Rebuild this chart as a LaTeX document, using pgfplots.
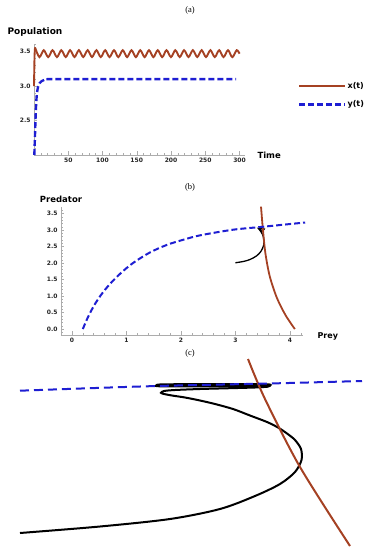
\documentclass[border=0pt]{standalone}
\usepackage{fontspec}
\setmainfont{DejaVu Sans}
\newfontfamily\seriffont{Liberation Serif}
\usepackage{pgfplots}
\pgfplotsset{compat=1.18}
\definecolor{mbrown}{RGB}{165,65,35}
\definecolor{mblue}{RGB}{30,30,210}
\newcommand{\tickfont}{\fontsize{6}{7}\selectfont\bfseries}
\pgfplotsset{
  mstyle/.style={
    scale only axis, clip=false,
    axis lines=left,
    axis line style={gray!65, line width=0.6pt, -},
    tick style={gray!65, line width=0.5pt},
    tick align=inside,
    major tick length=3.5pt, minor tick length=2pt,
    tick label style={font=\tickfont, text=black!85},
    /pgf/number format/assume math mode=true,
  }
}
\begin{document}
\begin{tikzpicture}
\path[use as bounding box] (0,0) rectangle (368pt,550pt);

% ---------------- panel (a)
\begin{axis}[mstyle,
  at={(34pt,395pt)}, anchor=south west,
  width=211pt, height=111pt,
  xmin=0, xmax=308, ymin=2, ymax=3.61,
  xtick={50,100,...,300},
  minor xtick={0,10,...,300},
  ytick={2.5,3.0,3.5},
  minor ytick={2.1,2.2,...,3.6},
  yticklabel style={/pgf/number format/.cd, fixed, fixed zerofill, precision=1},
  legend style={at={(1.237,0.685)}, anchor=north west, draw=none, fill=none,
    font=\fontsize{8}{9}\selectfont\bfseries, row sep=9pt,
    nodes={inner sep=1pt, anchor=west}},
  legend cell align=left,
  legend image code/.code={\draw[#1] (0pt,0pt) -- (46pt,0pt);},
]
\addplot[mbrown, line width=1.9pt, forget plot] coordinates {(0,3.0) (0.8,3.45) (1.5,3.56)};
\addplot[mbrown, line width=1.9pt, smooth] coordinates {
(1.5,3.56) (7.9,3.42) (14.3,3.52) (20.7,3.42) (27.1,3.52) (33.5,3.42) (39.9,3.52)
(46.3,3.42) (52.7,3.52) (59.1,3.42) (65.5,3.52) (71.9,3.42) (78.3,3.52) (84.7,3.42)
(91.1,3.52) (97.5,3.42) (103.9,3.52) (110.3,3.42) (116.7,3.52) (123.1,3.42) (129.5,3.52)
(135.9,3.42) (142.3,3.52) (148.7,3.42) (155.1,3.52) (161.5,3.42) (167.9,3.52) (174.3,3.42)
(180.7,3.52) (187.1,3.42) (193.5,3.52) (199.9,3.42) (206.3,3.52) (212.7,3.42) (219.1,3.52)
(225.5,3.42) (231.9,3.52) (238.3,3.42) (244.7,3.52) (251.1,3.42) (257.5,3.52) (263.9,3.42)
(270.3,3.52) (276.7,3.42) (283.1,3.52) (289.5,3.42) (295.9,3.52) (300,3.47)};
\addlegendentry{x(t)}
\addplot[mblue, line width=2.4pt, dash pattern=on 6pt off 3pt, smooth] coordinates {
(0.5,2.0) (1.5,2.3) (2.5,2.6) (3.5,2.8) (4.5,2.91) (6,2.99) (8,3.04) (11,3.07)
(15,3.09) (22,3.1) (100,3.1) (200,3.1) (295,3.1)};
\addlegendentry{y(t)}
\end{axis}

% ---------------- panel (b)
\begin{axis}[mstyle,
  at={(61pt,215pt)}, anchor=south west,
  width=242pt, height=128pt,
  xmin=-0.2, xmax=4.24, ymin=-0.18, ymax=3.7,
  xtick={0,1,2,3,4},
  minor xtick={-0.2,0,0.2,...,4.2},
  ytick={0,0.5,...,3.5},
  minor ytick={-0.1,0,0.1,...,3.7},
  yticklabel style={/pgf/number format/.cd, fixed, fixed zerofill, precision=1},
]
\addplot[black, line width=1.3pt, smooth] coordinates {
(3.0,2.01) (3.15,2.05) (3.27,2.11) (3.39,2.22) (3.47,2.36) (3.52,2.55) (3.52,2.72) (3.50,2.86) (3.46,2.97)};
\addplot[black, line width=1.2pt] coordinates {
(3.46,2.97) (3.42,3.05) (3.53,3.03) (3.49,2.95) (3.45,3.03) (3.53,3.05)};
\addplot[mbrown, line width=1.8pt, smooth] coordinates {
(3.47,3.71) (3.50,3.1) (3.55,2.3) (3.63,1.6) (3.76,0.95) (3.92,0.42) (4.09,0.0)};
\addplot[mblue, line width=2pt, dash pattern=on 6pt off 3pt, smooth] coordinates {
(0.20,0.00) (0.30,0.38) (0.42,0.75) (0.55,1.07) (0.70,1.37) (0.90,1.70) (1.12,2.00)
(1.43,2.32) (1.74,2.55) (2.05,2.71) (2.35,2.84) (2.95,3.01) (3.5,3.10) (4.28,3.23)};
\end{axis}

% ---------------- panel (c) and labels (pixel coordinates)
\begin{axis}[
  at={(0pt,0pt)}, anchor=south west, scale only axis,
  width=368pt, height=550pt,
  xmin=0, xmax=368, ymin=0, ymax=550, y dir=reverse,
  hide axis, clip=false,
]
\addplot[black, line width=2pt, smooth] coordinates {
(20,533) (100,526.5) (170,519) (220,509) (255,496) (280,484) (295,472) (301.5,460)
(301,449) (295,440) (287,433.5) (278,427.5) (267,422) (250,415.5) (233,409) (215,404)
(200,400.5) (185,397.5) (172,395.5) (164,394) (161,392.8) (164,391) (175,390) (200,389)
(230,388.2) (255,387.5) (267,386.8)};
\addplot[black, line width=2pt, smooth] coordinates {
(267,386.8) (270,385.8) (268,384.3) (240,384.2) (200,384.2) (165,384.3) (157,384.8)
(156,385.6) (160,386.3) (200,386.4) (240,386.3) (268,386)};
\addplot[mbrown, line width=2pt, smooth] coordinates {
(248,359) (265,399) (300,467) (350,546)};
\addplot[mblue, line width=2pt, dash pattern=on 9pt off 5pt, smooth] coordinates {
(20,390.7) (150,386.2) (277,383.3) (362,381)};

\node[font=\seriffont\fontsize{8.5}{10}\selectfont] at (axis cs:190,10) {(a)};
\node[font=\seriffont\fontsize{8.5}{10}\selectfont] at (axis cs:190,187) {(b)};
\node[font=\seriffont\fontsize{8.5}{10}\selectfont] at (axis cs:190,353) {(c)};
\node[font=\fontsize{9}{10}\selectfont\bfseries] at (axis cs:35,32) {Population};
\node[font=\fontsize{8.5}{10}\selectfont\bfseries, anchor=west] at (axis cs:254,155.5) {Time};
\node[font=\fontsize{8.5}{10}\selectfont\bfseries] at (axis cs:61,199) {Predator};
\node[font=\fontsize{8}{10}\selectfont\bfseries, anchor=west] at (axis cs:314,336) {Prey};
\end{axis}
\end{tikzpicture}
\end{document}
